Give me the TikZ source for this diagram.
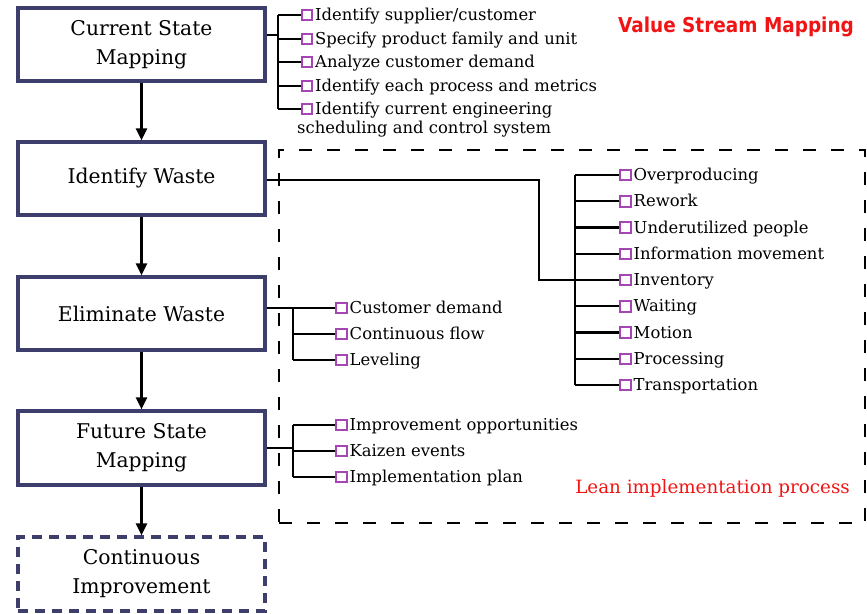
\documentclass[tikz,border=0pt]{standalone}
\usepackage{fontspec}
\setmainfont{DejaVu Serif}
\newfontfamily\titlefont{DejaVu Sans}[FakeStretch=0.9]
\usetikzlibrary{arrows.meta,calc}

\definecolor{stageline}{RGB}{62,62,108}
\definecolor{markcol}{RGB}{165,70,180}
\definecolor{redtext}{RGB}{240,20,20}

\begin{document}
\begin{tikzpicture}[x=1pt,y=-1pt,
  stage/.style={draw=stageline, line width=3.2pt, minimum width=247pt,
    minimum height=73pt, inner sep=0pt, align=center,
    font=\fontsize{20.3}{29}\selectfont},
  flow/.style={line width=2.2pt, -{Triangle[width=11pt,length=12pt]}},
  branch/.style={line width=2.2pt},
  mk/.style={draw=markcol, line width=2pt, minimum size=10.5pt, inner sep=0pt},
  itm/.style={inner sep=0pt, font=\fontsize{16.4}{19}\selectfont},
]
\useasboundingbox (0,0) rectangle (867,613);

% list entry: marker square plus its label
\newcommand\listentry[4]{%
  \node[mk] (#1) at (#2,#3) {};
  \node[itm, anchor=base west] (#1t) at ($(#2,#3)+(8,5.5)$) {#4};}

% ---- process stages ----
\node[stage] (cs) at (141.5,44.5) {Current State\\Mapping};
\node[stage] (iw) at (141.5,178.5) {Identify Waste};
\node[stage] (ew) at (141.5,313.5) {Eliminate Waste};
\node[stage, minimum height=74pt] (fs) at (141.5,448) {Future State\\Mapping};
\node[stage, minimum height=74pt, dash pattern=on 10pt off 7pt] (ci) at (141.5,574) {Continuous\\Improvement};

\draw[flow] (cs) -- (iw);
\draw[flow] (iw) -- (ew);
\draw[flow] (ew) -- (fs);
\draw[flow] (fs) -- (ci);

% ---- lean implementation frame ----
\node[draw, line width=2.8pt, dash pattern=on 13pt off 15pt,
  minimum width=586pt, minimum height=373pt, inner sep=0pt] (lean) at (572,336.5) {};
\node[anchor=base east, inner sep=0pt, text=redtext,
  font=\fontsize{18.3}{20}\selectfont] (leantitle) at (850,493) {Lean implementation process};

% ---- title ----
\node[anchor=base, inner sep=0pt, text=redtext,
  font=\titlefont\bfseries\fontsize{20.5}{22}\selectfont] (title) at (736,32) {Value Stream Mapping};

% ---- current state mapping list ----
\listentry{c1}{307}{15}{Identify supplier/customer}
\listentry{c2}{307}{39}{Specify product family and unit}
\listentry{c3}{307}{62}{Analyze customer demand}
\listentry{c4}{307}{86}{Identify each process and metrics}
\listentry{c5}{307}{109}{Identify current engineering}
\node[itm, anchor=base west] (c5b) at (297,133) {scheduling and control system};
\coordinate (csj) at (278,35);
\draw[branch] (cs.east |- csj) -- (csj);
\draw[branch] (csj |- c1) -- (csj |- c5);
\foreach \k in {1,...,5} \draw[branch] (csj |- c\k) -- (c\k.west);

% ---- wastes ----
\listentry{w1}{625.5}{175}{Overproducing}
\listentry{w2}{625.5}{201.25}{Rework}
\listentry{w3}{625.5}{227.5}{Underutilized people}
\listentry{w4}{625.5}{253.75}{Information movement}
\listentry{w5}{625.5}{280}{Inventory}
\listentry{w6}{625.5}{306.25}{Waiting}
\listentry{w7}{625.5}{332.5}{Motion}
\listentry{w8}{625.5}{358.75}{Processing}
\listentry{w9}{625.5}{385}{Transportation}
\coordinate (iwa) at (539,180);
\coordinate (iwj) at (575,280);
\draw[branch] (iw.east |- iwa) -- (iwa) |- (iwj);
\draw[branch] (iwj |- w1) -- (iwj |- w9);
\foreach \k in {1,...,9} \draw[branch] (iwj |- w\k) -- (w\k.west);

% ---- eliminate waste list ----
\listentry{e1}{341.5}{308}{Customer demand}
\listentry{e2}{341.5}{334}{Continuous flow}
\listentry{e3}{341.5}{360}{Leveling}
\coordinate (ewj) at (293,308);
\draw[branch] (ew.east |- ewj) -- (ewj);
\draw[branch] (ewj |- e1) -- (ewj |- e3);
\foreach \k in {1,...,3} \draw[branch] (ewj |- e\k) -- (e\k.west);

% ---- future state list ----
\listentry{f1}{341.5}{425}{Improvement opportunities}
\listentry{f2}{341.5}{451}{Kaizen events}
\listentry{f3}{341.5}{477}{Implementation plan}
\coordinate (fsj) at (293,448);
\draw[branch] (fs.east |- fsj) -- (fsj);
\draw[branch] (fsj |- f1) -- (fsj |- f3);
\foreach \k in {1,...,3} \draw[branch] (fsj |- f\k) -- (f\k.west);
\end{tikzpicture}
\end{document}
